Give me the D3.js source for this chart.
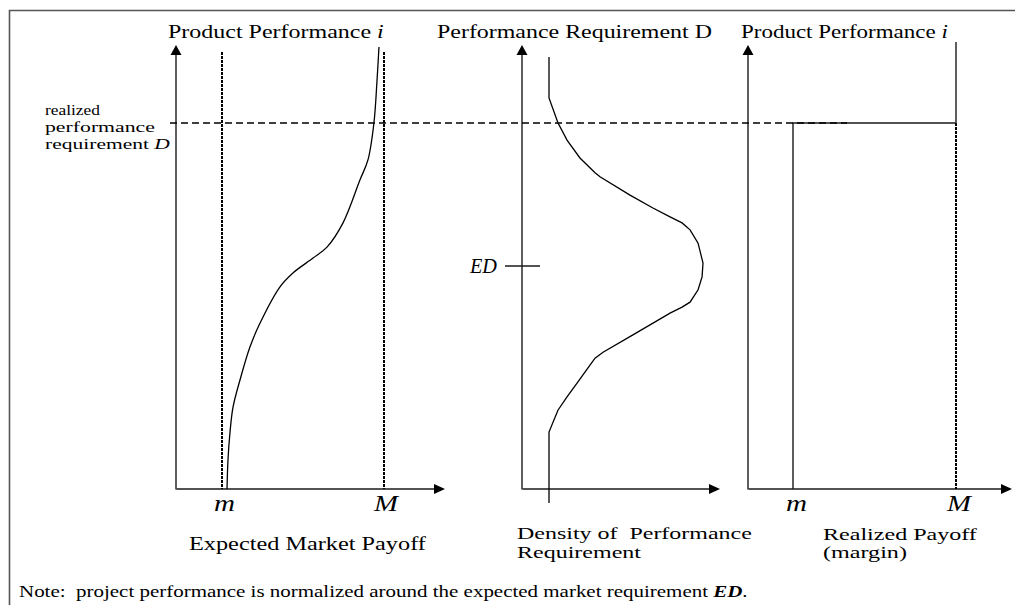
<!DOCTYPE html>
<html><head><meta charset="utf-8">
<script src="https://cdn.jsdelivr.net/npm/d3@7"></script>
<style>
html,body{margin:0;padding:0;background:#fff;}
text{font-family:"Liberation Serif","Times New Roman",serif;fill:#000;white-space:pre;}
</style></head>
<body><svg id="c" width="1015" height="605"></svg>
<script>
// ---- data ----
const perfExpected = [4.42,3.75,2.89,2.14,1.74,0.87,0.38,0.16,-0.14,-0.42,-1.15,-1.63,-2.30,-2.85,-3.37,-3.91,-4.5];
const expectedPayoff = [0.969,0.957,0.938,0.901,0.852,0.747,0.648,0.562,0.438,0.358,0.235,0.173,0.111,0.068,0.049,0.037,0.031];
const perfDensity = [4.22,3.39,2.89,2.54,2.18,1.88,1.80,1.43,1.17,0.99,0.87,0.73,0.46,0.06,-0.22,-0.48,-0.73,-0.83,-0.95,-1.39,-1.74,-1.86,-2.00,-2.34,-2.64,-2.91,-3.35,-4.78];
const density = [0,0,0.058,0.117,0.201,0.299,0.331,0.526,0.675,0.786,0.864,0.916,0.968,1.0,0.994,0.968,0.916,0.864,0.786,0.545,0.351,0.299,0.266,0.188,0.117,0.058,0,0];
const perfRealized = [-4.5, 2.885, 2.885, 4.52];
const realizedPayoff = [0, 0, 1, 1];
const payoffLevels = [0, 1];          // m, M
const payoffLabels = ["m", "M"];
const levelED = 0;
const levelD = 2.885;

// ---- layout ----
const svg = d3.select("#c");
const y = d3.scaleLinear().domain([-4.5, 4.5]).range([489, 43]);
const x1 = d3.scaleLinear().domain([0, 1]).range([222, 384]);
const x2 = d3.scaleLinear().domain([0, 1]).range([549, 703]);
const x3 = d3.scaleLinear().domain([0, 1]).range([793, 956]);
const axisBottomY = 489, axisTopY = 45;
const panels = [{x0:176, x1:445}, {x0:522, x1:720}, {x0:748, x1:1012}];
const ink = "#1a1a1a";

// border
svg.append("path").attr("d","M9.5,1000V10.5H1100").attr("fill","none").attr("stroke","#555").attr("stroke-width",1.6);

// axes
panels.forEach(p => {
  const ys = d3.scaleLinear().range([axisBottomY, axisTopY + 6]);
  const xs = d3.scaleLinear().range([p.x0, p.x1 - 6]);
  svg.append("g").attr("transform",`translate(${p.x0-0.5},0)`)
    .call(d3.axisLeft(ys).tickValues([]).tickSizeOuter(0))
    .select(".domain").attr("stroke",ink).attr("stroke-width",1.4);
  svg.append("g").attr("transform",`translate(0,${axisBottomY-0.5})`)
    .call(d3.axisBottom(xs).tickValues([]).tickSizeOuter(0))
    .select(".domain").attr("stroke",ink).attr("stroke-width",1.4);
  svg.append("path").attr("d",`M${p.x0},${axisTopY}L${p.x0-5.5},${axisTopY+10}L${p.x0+5.5},${axisTopY+10}Z`).attr("fill","#000");
  svg.append("path").attr("d",`M${p.x1},${axisBottomY}L${p.x1-11},${axisBottomY-5}L${p.x1-11},${axisBottomY+5}Z`).attr("fill","#000");
});

const dotted = {stroke:"#000", "stroke-width":2, "stroke-dasharray":"3,1"};
function applyAttrs(sel, o){ Object.entries(o).forEach(([k,v])=>sel.attr(k,v)); return sel; }

// panel 1 dotted m / M
payoffLevels.forEach(v => {
  applyAttrs(svg.append("line").attr("x1",x1(v)).attr("x2",x1(v)).attr("y1",52).attr("y2",axisBottomY), dotted);
});
// panel 1 curve
svg.append("path")
  .attr("d", d3.line().x(i=>x1(expectedPayoff[i])).y(i=>y(perfExpected[i])).curve(d3.curveCatmullRom.alpha(0.5))(d3.range(perfExpected.length)))
  .attr("fill","none").attr("stroke","#000").attr("stroke-width",1.3);

// panel 2 density
svg.append("path")
  .attr("d", d3.line().x(i=>x2(density[i])).y(i=>y(perfDensity[i])).curve(d3.curveLinear)(d3.range(density.length)))
  .attr("fill","none").attr("stroke","#000").attr("stroke-width",1.3);
// ED tick
svg.append("line").attr("x1",505).attr("x2",540).attr("y1",y(levelED)).attr("y2",y(levelED)).attr("stroke",ink).attr("stroke-width",1.3);

// panel 3 realized payoff
applyAttrs(svg.append("line").attr("x1",x3(1)).attr("x2",x3(1)).attr("y1",y(levelD)).attr("y2",axisBottomY), dotted);
svg.append("path")
  .attr("d", d3.line().x(i=>x3(realizedPayoff[i])).y(i=>y(perfRealized[i])).curve(d3.curveLinear)(d3.range(perfRealized.length)))
  .attr("fill","none").attr("stroke",ink).attr("stroke-width",1.4);

// dashed realized requirement line
svg.append("line").attr("x1",170).attr("x2",847).attr("y1",y(levelD)).attr("y2",y(levelD))
  .attr("stroke","#000").attr("stroke-width",1.6).attr("stroke-dasharray","7,4");

// ---- texts ----
function label(parts, x, yb, w, size){
  const g = svg.append("g").attr("transform",`translate(${x},${yb})`);
  const t = g.append("text").attr("x",0).attr("y",0).attr("font-size",size);
  parts.forEach(p => {
    const ts = t.append("tspan").text(p.t);
    if (p.i) ts.attr("font-style","italic");
    if (p.b) ts.attr("font-weight","bold");
  });
  const nat = t.node().getComputedTextLength();
  g.attr("transform",`translate(${x},${yb}) scale(${w/nat},1)`);
}
label([{t:"Product Performance "},{t:"i",i:1}], 168, 38, 216, 19);
label([{t:"Performance Requirement D"}], 437, 38, 275, 19);
label([{t:"Product Performance "},{t:"i",i:1}], 741, 38, 207, 19);
label([{t:"realized"}], 45, 115, 55, 15.5);
label([{t:"performance"}], 45, 131.5, 110, 15.5);
label([{t:"requirement "},{t:"D",i:1}], 45, 148.5, 125, 15.5);
label([{t:payoffLabels[0],i:1}], 214, 511, 21, 24);
label([{t:payoffLabels[1],i:1}], 374, 511, 24, 24);
label([{t:"Expected Market Payoff"}], 189, 550, 237, 19.5);
label([{t:"Density of  Performance"}], 517, 539, 235, 17.5);
label([{t:"Requirement"}], 517, 558, 124, 17.5);
label([{t:payoffLabels[0],i:1}], 786, 511, 21, 24);
label([{t:payoffLabels[1],i:1}], 947, 511, 24, 24);
label([{t:"Realized Payoff"}], 823, 540, 154, 17.5);
label([{t:"(margin)"}], 823, 558, 84, 17.5);
label([{t:"ED",i:1}], 470, 273, 27, 21);
label([{t:"Note:  project performance is normalized around the expected market requirement "},{t:"ED",i:1,b:1},{t:"."}], 19, 597, 729, 16);
</script></body></html>
